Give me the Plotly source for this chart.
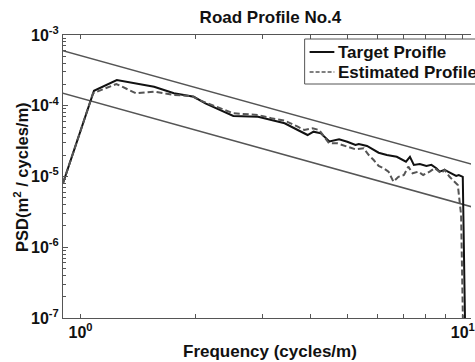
import plotly.graph_objects as go

# ---- data ----
target_freq = [0.900, 1.084, 1.244, 1.557, 1.755, 1.978, 2.121, 2.510, 2.914, 3.419,
               3.700, 3.926, 4.070, 4.252, 4.478, 4.746, 4.986, 5.239, 5.346, 5.617,
               6.023, 6.329, 6.719, 7.102, 7.274, 7.447, 7.719, 8.033, 8.277, 8.528,
               8.699, 8.962, 9.145, 9.327, 9.608, 9.763, 10.00, 10.20]
target_psd = [8.1e-6, 1.63e-4, 2.31e-4, 1.86e-4, 1.50e-4, 1.34e-4, 1.08e-4, 7.16e-5, 7.00e-5, 5.65e-5,
              4.54e-5, 3.86e-5, 4.30e-5, 4.08e-5, 3.13e-5, 3.36e-5, 3.10e-5, 2.79e-5, 2.88e-5, 2.70e-5,
              2.17e-5, 2.01e-5, 1.90e-5, 1.62e-5, 1.90e-5, 1.46e-5, 1.50e-5, 1.41e-5, 1.46e-5, 1.31e-5,
              1.17e-5, 1.24e-5, 1.17e-5, 1.11e-5, 1.02e-5, 1.05e-5, 9.9e-6, 1e-8]

est_freq = [0.900, 1.078, 1.240, 1.397, 1.557, 1.755, 1.958, 2.038, 2.510, 2.914,
            3.155, 3.419, 3.700, 3.850, 4.046, 4.210, 4.470, 4.697, 4.986, 5.239,
            5.508, 5.675, 5.847, 6.023, 6.205, 6.393, 6.587, 6.786, 7.016, 7.202,
            7.390, 7.645, 7.877, 8.193, 8.443, 8.788, 8.962, 9.234, 9.513, 9.705,
            9.899, 10.08]
est_psd = [8.1e-6, 1.50e-4, 2.03e-4, 1.50e-4, 1.58e-4, 1.42e-4, 1.37e-4, 1.21e-4, 7.82e-5, 7.40e-5,
           6.65e-5, 6.15e-5, 5.06e-5, 4.54e-5, 4.80e-5, 4.54e-5, 2.94e-5, 2.94e-5, 2.64e-5, 2.42e-5,
           2.50e-5, 2.01e-5, 1.71e-5, 1.41e-5, 1.31e-5, 1.17e-5, 8.44e-6, 9.9e-6, 1.05e-5, 1.38e-5,
           1.11e-5, 1.17e-5, 1.05e-5, 1.17e-5, 1.31e-5, 1.11e-5, 1.24e-5, 9.9e-6, 8.44e-6, 7.59e-6,
           2.86e-6, 1e-8]

bound_freq = [0.85, 11.0]
upper_bound_psd = [6.53e-4, 1.40e-5]
lower_bound_psd = [1.633e-4, 3.5e-6]

series_names = ["Target Proifle", "Estimated Profile"]

x_tick_vals = [1, 2, 3, 4, 5, 6, 7, 8, 9, 10]
x_tick_text = ["10<sup>0</sup>", "", "", "", "", "", "", "", "", "10<sup>1</sup>"]
y_tick_vals = [1e-7, 1e-6, 1e-5, 1e-4, 1e-3]
y_tick_text = ["10<sup>-7</sup>", "10<sup>-6</sup>", "10<sup>-5</sup>", "10<sup>-4</sup>", "10<sup>-3</sup>"]
y_minor_vals = [m * 10.0 ** e for e in range(-7, -3) for m in range(2, 10)]

FONT = "Arial, Liberation Sans, sans-serif"
W, H = 475, 362
L, R, T, B = 63, 0, 35, 44
PW, PH = W - L - R, H - T - B


def px(x):  # pixel x -> paper x
    return (x - L) / PW


def py(y):  # pixel y -> paper y
    return (H - B - y) / PH


SOLID = dict(color="#111111", width=2)
DASHED = dict(color="#555555", width=2, dash="6px,3px")

fig = go.Figure()
fig.add_trace(go.Scatter(x=bound_freq, y=upper_bound_psd, mode="lines",
                         line=dict(color="#555555", width=1.5), showlegend=False, hoverinfo="skip"))
fig.add_trace(go.Scatter(x=bound_freq, y=lower_bound_psd, mode="lines",
                         line=dict(color="#555555", width=1.5), showlegend=False, hoverinfo="skip"))
fig.add_trace(go.Scatter(x=target_freq, y=target_psd, mode="lines", name=series_names[0],
                         line=SOLID, showlegend=False))
fig.add_trace(go.Scatter(x=est_freq, y=est_psd, mode="lines", name=series_names[1],
                         line=DASHED, showlegend=False))

# legend box drawn by hand (matches the MATLAB-style legend)
shapes = [
    dict(type="rect", xref="paper", yref="paper", x0=px(307), x1=px(495), y0=py(84), y1=py(39),
         line=dict(color="#555555", width=1), fillcolor="white", layer="above"),
    dict(type="line", xref="paper", yref="paper", x0=px(312), x1=px(337), y0=py(52), y1=py(52),
         line=SOLID, layer="above"),
    dict(type="line", xref="paper", yref="paper", x0=px(312), x1=px(337), y0=py(72), y1=py(72),
         line=dict(color="#555555", width=1.5, dash="4px,2px"), layer="above"),
]

fig.update_layout(
    width=W, height=H,
    margin=dict(l=L, r=R, t=T, b=B, pad=0),
    paper_bgcolor="white", plot_bgcolor="white",
    font=dict(family=FONT, size=15, color="#111111"),
    showlegend=False,
    title=dict(text="Road Profile No.4", x=px(272.5), xref="paper",
               y=1 - 17 / H, yref="container", xanchor="center", yanchor="middle",
               font=dict(family=FONT, size=17, weight="bold", color="#111111")),
    xaxis=dict(type="log", range=[-0.046, 1.0215], tickmode="array",
               tickvals=x_tick_vals, ticktext=x_tick_text, ticklabeloverflow="allow",
               ticks="inside", ticklen=4, tickcolor="#555555", tickwidth=1,
               showline=True, linecolor="#555555", linewidth=1, mirror="ticks",
               showgrid=False, zeroline=False,
               tickfont=dict(family=FONT, size=16, weight="bold", color="#111111")),
    yaxis=dict(type="log", range=[-7, -3], tickmode="array",
               tickvals=y_tick_vals, ticktext=y_tick_text, ticklabeloverflow="allow",
               ticks="inside", ticklen=5, tickcolor="#555555", tickwidth=1,
               minor=dict(tickvals=y_minor_vals, ticks="inside", ticklen=3, tickcolor="#555555", showgrid=False),
               showline=True, linecolor="#555555", linewidth=1, mirror=False,
               showgrid=False, zeroline=False,
               tickfont=dict(family=FONT, size=16, weight="bold", color="#111111")),
    shapes=shapes,
    annotations=[
        dict(text="<b>Frequency (cycles/m)</b>", xref="paper", yref="paper",
             x=px(272.5), y=py(351), xanchor="center", yanchor="middle", showarrow=False,
             font=dict(family=FONT, size=17, color="#111111")),
        dict(text="<b>PSD(m<sup>2</sup> / cycles/m)</b>", xref="paper", yref="paper",
             x=px(20), y=0.5, textangle=-90,
             xanchor="center", yanchor="middle", showarrow=False,
             font=dict(family=FONT, size=16.5, color="#111111")),
        dict(text="<b>" + series_names[0] + "</b>", xref="paper", yref="paper",
             x=px(339), y=py(52), xanchor="left", yanchor="middle", showarrow=False,
             font=dict(family=FONT, size=17, color="#111111")),
        dict(text="<b>" + series_names[1] + "</b>", xref="paper", yref="paper",
             x=px(339), y=py(72), xanchor="left", yanchor="middle", showarrow=False,
             font=dict(family=FONT, size=17, color="#111111")),
    ],
)

fig.write_html("out.html")
